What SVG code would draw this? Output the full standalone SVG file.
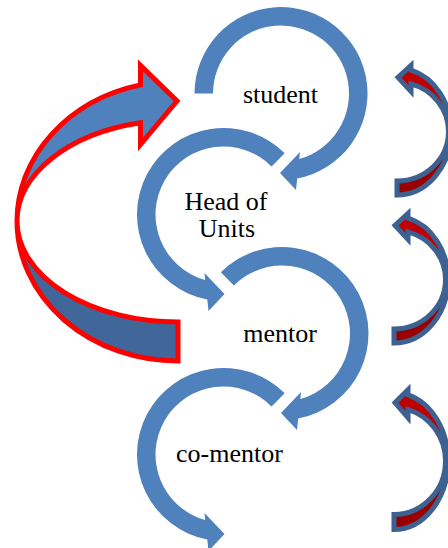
<svg xmlns="http://www.w3.org/2000/svg" xmlns:xlink="http://www.w3.org/1999/xlink" width="448" height="548" viewBox="0 0 448 548">
  <style>
    .ring { fill: #4F81BD; }
    .lbl { font-family: "Liberation Serif", "Times New Roman", serif; font-size: 26px; fill: #000000; text-anchor: middle; }
    .loop-front { fill: #4F81BD; stroke: #FF0000; stroke-width: 5; stroke-linejoin: miter; }
    .loop-back { fill: #416699; stroke: #FF0000; stroke-width: 5; stroke-linejoin: miter; }
    .ret-front { fill: #C00000; stroke: #3D6190; stroke-width: 5; stroke-linejoin: miter; vector-effect: non-scaling-stroke; }
    .ret-back { fill: #990000; stroke: #3D6190; stroke-width: 5; stroke-linejoin: miter; vector-effect: non-scaling-stroke; }
  </style>
  <defs>
    <!-- circular arrow, clockwise, opening on the left (starts at 180deg) -->
    <path id="ring-a" class="ring" d="M -86.5,0 A 86.5 86.5 0 1 1 16.2,85 L 15,96.5 L -1,79.5 L 19,58.5 L 18.3,65.5 A 68 68 0 1 0 -68,0 Z"/>
    <!-- circular arrow, clockwise, opening at the upper left (starts at 225deg) -->
    <path id="ring-b" class="ring" d="M -61.16,-61.16 A 86.5 86.5 0 1 1 16.2,85 L 15,96.5 L -1,79.5 L 19,58.5 L 18.3,65.5 A 68 68 0 1 0 -48.08,-48.08 Z"/>
    <!-- small curved return arrow pointing left -->
    <g id="ret">
      <path class="ret-back" d="M 54,0 A 54 63.5 0 0 1 0,63.5 L 0,49.5 A 51.5 49.5 0 0 0 51.5,0 Z"/>
      <path class="ret-front" d="M 54,0 A 54 63.5 0 0 0 14,-61.3 L 14,-66 L 1,-54 L 14,-40 L 14,-47.6 A 51.5 49.5 0 0 1 51.5,0 Z"/>
    </g>
  </defs>

  <g id="connectors">
    <!-- large loop arrow on the left, back band then front band with head -->
    <g id="loop-arrow">
      <path class="loop-back" d="M 17,221 A 161 140 0 0 0 178,361 L 178,322 A 161 101 0 0 1 17,221 Z"/>
      <path class="loop-front" d="M 17,221 A 161 140 0 0 1 140.5,84.9 L 140.5,65.5 L 177,101 L 140.5,144.5 L 140.5,122.8 A 161 101 0 0 0 17,221 Z"/>
    </g>
    <!-- return arrows along the right edge -->
    <use id="return-1" xlink:href="#ret" href="#ret" transform="translate(397,131.5)"/>
    <use id="return-2" xlink:href="#ret" href="#ret" transform="translate(394,279.5)"/>
    <use id="return-3" xlink:href="#ret" href="#ret" transform="translate(394,461) scale(1,1.08)"/>
  </g>

  <g id="node-student">
    <use xlink:href="#ring-a" href="#ring-a" transform="translate(281,93.5)"/>
    <text class="lbl" x="280.5" y="103">student</text>
  </g>

  <g id="node-head-of-units">
    <use xlink:href="#ring-b" href="#ring-b" transform="translate(223.5,214.5) scale(-1,1)"/>
    <text class="lbl" x="226" y="210">Head of</text>
    <text class="lbl" x="227" y="237">Units</text>
  </g>

  <g id="node-mentor">
    <use xlink:href="#ring-b" href="#ring-b" transform="translate(282,333.5)"/>
    <text class="lbl" x="280" y="342">mentor</text>
  </g>

  <g id="node-co-mentor">
    <use xlink:href="#ring-b" href="#ring-b" transform="translate(223.5,454.5) scale(-1,1)"/>
    <text class="lbl" x="229.5" y="462">co-mentor</text>
  </g>
</svg>
